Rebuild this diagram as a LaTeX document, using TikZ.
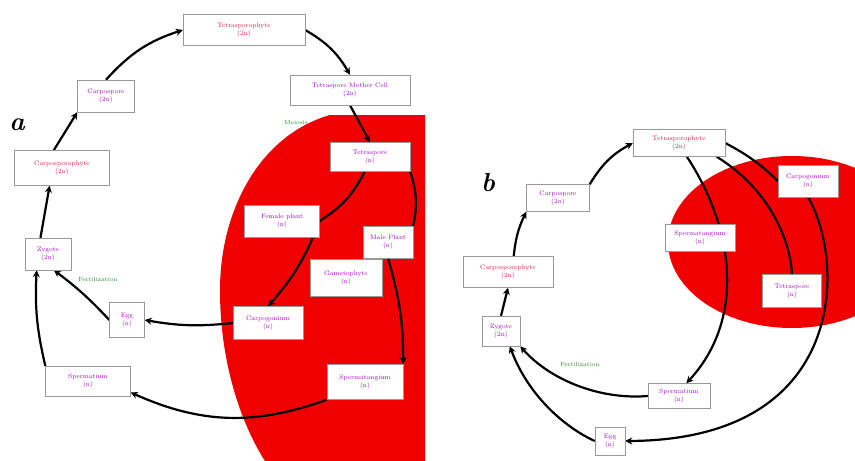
\documentclass[tikz,border=0pt]{standalone}
\usepackage{tikz}
\usetikzlibrary{arrows.meta,calc}
\definecolor{algred}{RGB}{240,0,0}
\definecolor{labmag}{RGB}{170,0,200}
\definecolor{labred}{RGB}{205,30,70}
\definecolor{labgreen}{RGB}{30,140,30}
\pgfdeclarelayer{bg}
\pgfdeclarelayer{lines}
\pgfsetlayers{bg,lines,main}

\begin{document}
\begin{tikzpicture}
  [
    x=1pt, y=-1pt,
    box/.style={draw=gray!80, fill=white, inner sep=0pt, align=center,
      text=labmag, font=\fontsize{6.5}{8}\selectfont},
    arr/.style={-{Stealth[length=7pt,width=7pt]}, line width=2.2pt},
    plain/.style={line width=2.2pt},
    tag/.style={text=labgreen, font=\fontsize{6}{7}\selectfont},
    letter/.style={font=\fontsize{26}{28}\selectfont\bfseries\itshape}
  ]
  \useasboundingbox (0,0) rectangle (855,461);
  \begin{pgfonlayer}{bg}
    \fill [algred] (425,115) -- (330,115) .. controls (260,135) and (220,210) .. (220,290)
      .. controls (220,370) and (245,430) .. (265,461) -- (425,461) -- cycle;
    \begin{scope}
      \clip (0,0) rectangle (855,461);
      \fill [algred] (792,242) ellipse [x radius=124, y radius=86];
    \end{scope}
  \end{pgfonlayer}

  % panel a
  \node [letter] at (17,125) (la) {a};
  \node [box, text=labred, minimum width=122, minimum height=31] at (244,30) (tsp) {Tetrasporophyte\\(2n)};
  \node [box, minimum width=120, minimum height=30] at (350,90) (tmc) {Tetraspore Mother Cell\\(2n)};
  \node [box, minimum width=57, minimum height=32] at (106,96) (cs) {Carpospore\\(2n)};
  \node [box, text=labred, minimum width=95, minimum height=35] at (62,168) (csp) {Carposporophyte\\(2n)};
  \node [box, minimum width=46, minimum height=32] at (48,254) (zyg) {Zygote\\(2n)};
  \node [box, minimum width=80, minimum height=29] at (370,157) (ts) {Tetraspore\\(n)};
  \node [box, minimum width=75, minimum height=32] at (282,221) (fp) {Female plant\\(n)};
  \node [box, minimum width=50, minimum height=32] at (388,242) (mp) {Male Plant\\(n)};
  \node [box, minimum width=72, minimum height=37] at (346,278) (gam) {Gametophyte\\(n)};
  \node [box, minimum width=70, minimum height=33] at (268,323) (cp) {Carpogonium\\(n)};
  \node [box, minimum width=35, minimum height=35] at (127,320) (egg) {Egg\\(n)};
  \node [box, minimum width=85, minimum height=30] at (88,381) (sm) {Spermatium\\(n)};
  \node [box, minimum width=76, minimum height=35] at (365,382) (sg) {Spermatangium\\(n)};
  \node [tag] at (296,122) (mei) {Meiosis};
  \node [tag] at (98,279) (fert) {Fertilization};

  \begin{pgfonlayer}{lines}
    \draw [arr] (zyg.115) -- (csp.235);
    \draw [arr] (csp.115) -- (cs.south west);
    \draw [arr] (cs.north) to [bend left=15] (tsp.west);
    \draw [arr] (tsp.east) to [bend left=15] (tmc.north);
    \draw [arr] (tmc.south) -- (ts.north);
    \draw [plain] (ts.250) to [bend left=15] (fp.east);
    \draw [arr] (fp.east) to [bend left=10] (cp.north);
    \draw [plain] (ts.south east) to [bend left=15] (mp.north east);
    \draw [arr] (mp.south) to [bend left=8] (sg.north east);
    \draw [arr] (cp.west) to [bend left=8] (egg.east);
    \draw [arr] (egg.west) to [bend right=5] (zyg.-70);
    \draw [arr] (sg.south west) to [bend left=22] (sm.-15);
    \draw [arr] (sm.north west) to [bend left=8] (zyg.235);
  \end{pgfonlayer}

  % panel b
  \node [letter] at (488,183) (lb) {b};
  \node [box, text=labred, minimum width=92, minimum height=27] at (679,143) (btsp) {Tetrasporophyte\\(2n)};
  \node [box, minimum width=60, minimum height=32] at (808,181) (bcg) {Carpogonium\\(n)};
  \node [box, minimum width=70, minimum height=27] at (700,238) (bsg) {Spermatangium\\(n)};
  \node [box, minimum width=59, minimum height=33] at (792,291) (bts) {Tetraspore\\(n)};
  \node [box, minimum width=62, minimum height=25] at (679,396) (bsm) {Spermatium\\(n)};
  \node [box, minimum width=30, minimum height=28] at (610,441) (begg) {Egg\\(n)};
  \node [box, minimum width=38, minimum height=30] at (501,331) (bzyg) {Zygote\\(2n)};
  \node [box, text=labred, minimum width=90, minimum height=31] at (508,272) (bcsp) {Carposporophyte\\(2n)};
  \node [box, minimum width=63, minimum height=27] at (558,198) (bcs) {Carpospore\\(2n)};
  \node [tag] at (580,364) (bfert) {Fertilization};

  \begin{pgfonlayer}{lines}
    \draw [arr] (bzyg.north) -- (bcsp.south);
    \draw [arr] (bcsp.70) to [bend left=10] (bcs.south west);
    \draw [arr] (bcs.north east) to [bend left=15] (btsp.west);
    \draw [plain] (btsp.east) to [bend left=8] (bcg.west);
    \draw [arr] (btsp.-60) .. controls (735,230) and (745,320) .. (bsm.60);
    \draw [plain] (btsp.-20) .. controls (770,190) and (790,240) .. (bts.north);
    \draw [arr] (bcg.south) .. controls (845,260) and (850,440) .. (begg.east);
    \draw [arr] (bsm.west) .. controls (600,400) and (550,380) .. (bzyg.south east);
    \draw [arr] (begg.west) .. controls (570,430) and (530,400) .. (bzyg.300);
  \end{pgfonlayer}

\end{tikzpicture}
\end{document}
